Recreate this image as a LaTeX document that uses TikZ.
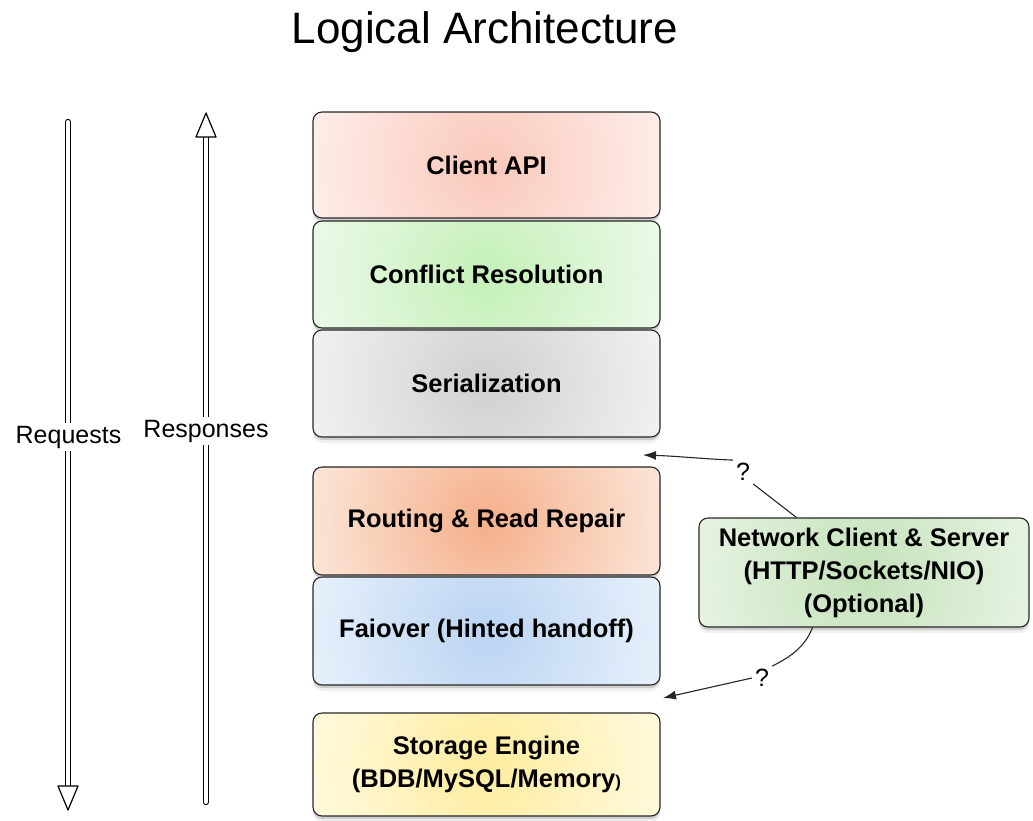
\documentclass[tikz,border=0pt]{standalone}
\usepackage{fontspec}
\setmainfont{Liberation Sans}
\usetikzlibrary{shadows,arrows.meta,calc}
\definecolor{apiin}{RGB}{250,200,186}
\definecolor{apiout}{RGB}{255,250,249}
\definecolor{crin}{RGB}{196,240,184}
\definecolor{crout}{RGB}{248,253,247}
\definecolor{serin}{RGB}{208,208,208}
\definecolor{serout}{RGB}{252,252,252}
\definecolor{rtin}{RGB}{245,175,138}
\definecolor{rtout}{RGB}{254,247,242}
\definecolor{fvin}{RGB}{186,212,242}
\definecolor{fvout}{RGB}{246,250,255}
\definecolor{stin}{RGB}{255,236,158}
\definecolor{stout}{RGB}{255,254,242}
\definecolor{netin}{RGB}{196,226,186}
\definecolor{netout}{RGB}{244,250,241}
\begin{document}
\begin{tikzpicture}[x=1pt,y=-1pt,
  layerbox/.style 2 args={draw=black!85, line width=1.1pt, rounded corners=9pt,
    fill=#2, minimum width=347pt, minimum height=106pt, align=center,
    font=\bfseries\fontsize{25.5}{33}\selectfont,
    drop shadow={shadow xshift=0pt, shadow yshift=-6pt, opacity=0.12},
    drop shadow={shadow xshift=0pt, shadow yshift=-3pt, opacity=0.3},
    path picture={\shade[inner color=#1, outer color=#2]
      (path picture bounding box.center) circle (240pt);}},
  conn/.style={draw=black!85, line width=1.1pt},
  tip/.style={-{Latex[length=13pt,width=9pt]}},
  qlabel/.style={font=\fontsize{25}{30}\selectfont, inner sep=3pt},
  dshaft/.style={draw=black, line width=1.2pt, double=white, double distance=4pt, line cap=round},
  openhead/.style={draw=black, fill=white, line width=1.2pt, line join=round},
  sidelabel/.style={font=\fontsize{25}{30}\selectfont, fill=white, anchor=base, inner sep=3pt}
]
\useasboundingbox (0,0) rectangle (1033,820);

% title
\node[font=\fontsize{44}{52}\selectfont, anchor=base] (title) at (485,43) {Logical Architecture};

% left arrows
\coordinate (reqtop) at (68,122);
\coordinate (reqbase) at (68,786);
\coordinate (reqtip) at (68,810);
\draw[dshaft] (reqtop) -- (reqbase);
\draw[openhead] ($(reqbase)+(-10,0)$) -- ($(reqbase)+(10,0)$) -- (reqtip) -- cycle;

\coordinate (resbot) at (206,802);
\coordinate (resbase) at (206,137);
\coordinate (restip) at (206,113);
\draw[dshaft] (resbot) -- (resbase);
\draw[openhead] ($(resbase)+(-10,0)$) -- ($(resbase)+(10,0)$) -- (restip) -- cycle;

\node[sidelabel] (req) at (68.5,443) {Requests};
\node[sidelabel] (res) at (206,437) {Responses};

% layer stack
\node[layerbox={apiin}{apiout}] (api) at (486.5,165) {Client API};
\node[layerbox={crin}{crout}, minimum height=107pt] (cr) at (486.5,274.5) {Conflict Resolution};
\node[layerbox={serin}{serout}, minimum height=107pt] (ser) at (486.5,383.5) {Serialization};
\node[layerbox={rtin}{rtout}, minimum height=108pt] (rt) at (486.5,521) {Routing \& Read Repair};
\node[layerbox={fvin}{fvout}, minimum height=108pt] (fv) at (486.5,631) {Faiover (Hinted handoff)};
\node[layerbox={stin}{stout}, minimum height=103pt] (st) at (486.5,764.5)
  {Storage Engine\\(BDB/MySQL/Memory{\fontsize{17}{20}\selectfont )}};

% network box
\node[layerbox={netin}{netout}, minimum width=330pt, minimum height=109pt] (net) at (864,572.5)
  {Network Client \& Server\\(HTTP/Sockets/NIO)\\(Optional)};

% connectors
\coordinate (t1) at ($(net.north west)+(98,0)$);
\node[qlabel] (q1) at (743,472) {?};
\coordinate (tip1) at (643,455);
\draw[conn] (t1) -- (q1.south east);
\draw[conn, tip] (q1.north west) .. controls (705,459) and (675,456) .. (tip1);

\coordinate (b1) at ($(net.south west)+(114,0)$);
\node[qlabel] (q2) at (762,678) {?};
\coordinate (tip2) at (663,698);
\draw[conn] (b1) .. controls ($(b1)+(-8,22)$) and ($(q2.north east)+(12,-6)$) .. (q2.north east);
\draw[conn, tip] (q2.west) -- (tip2);
\end{tikzpicture}
\end{document}
